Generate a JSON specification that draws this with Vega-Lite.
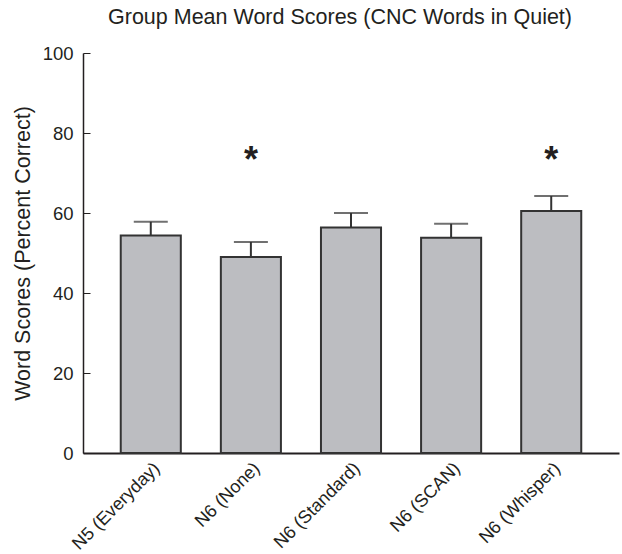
{
  "$schema": "https://vega.github.io/schema/vega-lite/v6.json",
  "autosize": "none",
  "width": 536,
  "height": 400,
  "padding": {"left": 83, "top": 53, "right": 3, "bottom": 101},
  "background": "white",
  "config": {
    "font": "Liberation Sans",
    "view": {"stroke": null},
    "axis": {"grid": false, "domainColor": "#231f20", "domainWidth": 1.5, "tickColor": "#231f20", "labelColor": "#231f20", "titleColor": "#231f20", "labelFont": "Liberation Sans", "titleFont": "Liberation Sans", "titleFontWeight": "normal"}
  },
  "title": {"text": "Group Mean Word Scores (CNC Words in Quiet)", "fontSize": 21.5, "fontWeight": "normal", "color": "#231f20", "font": "Liberation Sans", "anchor": "middle", "dx": -11, "offset": 16},
  "data": {"values": [
    {"group": "N5 (Everyday)", "mean": 54.4, "upper": 57.8, "sig": ""},
    {"group": "N6 (None)", "mean": 49.0, "upper": 52.75, "sig": "*"},
    {"group": "N6 (Standard)", "mean": 56.4, "upper": 60.0, "sig": ""},
    {"group": "N6 (SCAN)", "mean": 53.8, "upper": 57.3, "sig": ""},
    {"group": "N6 (Whisper)", "mean": 60.5, "upper": 64.25, "sig": "*"}
  ]},
  "encoding": {
    "x": {"field": "group", "type": "nominal", "sort": null,
      "scale": {"paddingInner": 0.4, "paddingOuter": 0.377},
      "axis": {"title": null, "labelAngle": -45, "labelAlign": "right", "labelBaseline": "top", "labelFontSize": 18, "ticks": false, "labelPadding": 6, "domainWidth": 2}}
  },
  "layer": [
    {
      "mark": {"type": "rule", "color": "#333333", "strokeWidth": 2},
      "encoding": {
        "y": {"field": "mean", "type": "quantitative"},
        "y2": {"field": "upper"}
      }
    },
    {
      "mark": {"type": "tick", "color": "#333333", "thickness": 2, "size": 34, "orient": "horizontal"},
      "encoding": {
        "y": {"field": "upper", "type": "quantitative"}
      }
    },
    {
      "mark": {"type": "bar", "fill": "#bcbdc1", "stroke": "#333333", "strokeWidth": 2},
      "encoding": {
        "y": {"field": "mean", "type": "quantitative",
          "scale": {"domain": [0, 100]},
          "axis": {"title": "Word Scores (Percent Correct)", "titleFontSize": 21.5, "labelFontSize": 18.5, "values": [0, 20, 40, 60, 80, 100], "tickSize": -7, "labelPadding": 17, "titlePadding": 8, "domainWidth": 1.5}
        }
      }
    },
    {
      "mark": {"type": "text", "fontSize": 36, "fontWeight": "bold", "color": "#231f20", "baseline": "middle", "dy": 6},
      "encoding": {
        "y": {"datum": 74.5, "type": "quantitative"},
        "text": {"field": "sig"}
      }
    }
  ]
}
